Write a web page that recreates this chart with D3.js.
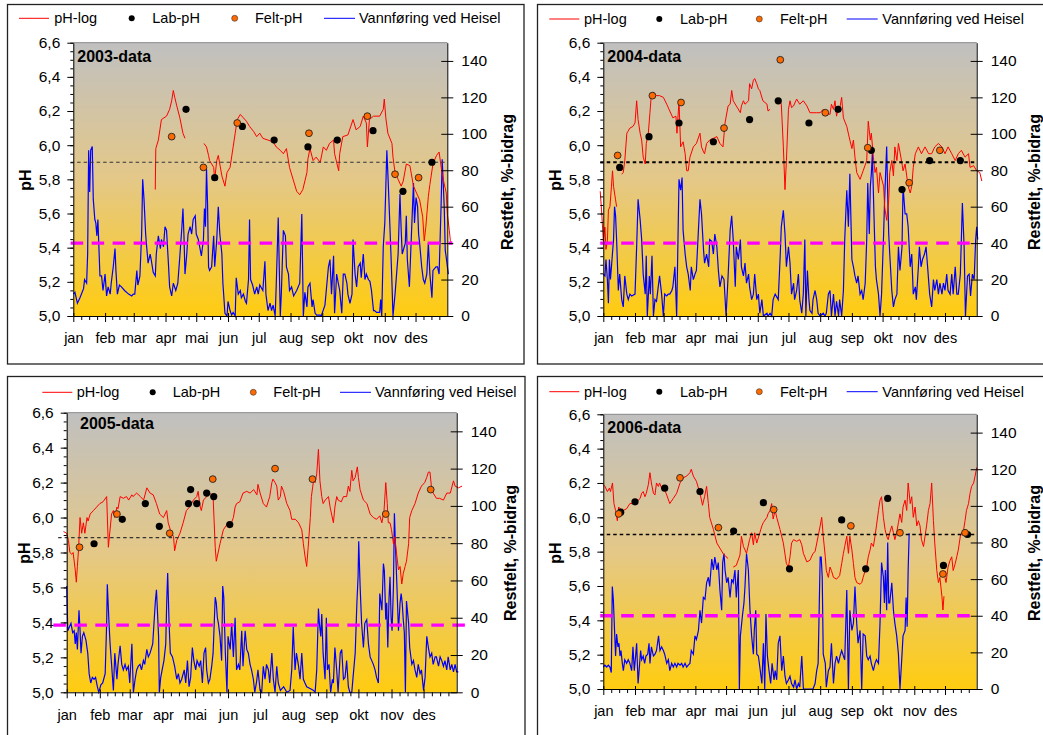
<!DOCTYPE html>
<html>
<head>
<meta charset="utf-8">
<script src="https://cdn.jsdelivr.net/npm/d3@7"></script>
<style>
body { margin: 0; background: #fff; }
svg { display: block; font-family: "Liberation Sans", Arial, sans-serif; }
</style>
</head>
<body>
<svg width="1043" height="735"></svg>
<script>
// ---- data: [day of year, value]; null = gap in the logger series ----
const years = ['2003', '2004', '2005', '2006'];
const months = ['jan','feb','mar','apr','mai','jun','jul','aug','sep','okt','nov','des'];
const monthStart = [0,31,59,90,120,151,181,212,243,273,304,334];
const phTicks = [5.0,5.2,5.4,5.6,5.8,6.0,6.2,6.4,6.6];
const flowTicks = [0,20,40,60,80,100,120,140];
const phRef = [5.9, 5.9, 5.885, 5.9];      // black dotted line
const flowRef = [40, 40, 36, 40];          // magenta dashed line

const phLog2003 = [[80,5.74],[80.5,5.98],[83,6.03],[86,6.15],[91,6.17],[94,6.21],[96,6.26],[97.6,6.32],[99,6.28],[101,6.23],[104,6.16],[107,6.07],[109,6.04],[110,null],
[127.5,6.01],[130,5.99],[132,5.94],[133,5.91],[137,5.87],[138,5.80],[140,5.91],[141.5,5.94],[145,5.82],[148,5.76],[150,5.84],[153,5.87],[156,5.99],[158,6.07],[160,6.15],[163,6.18],[166,6.16],[169,6.14],[172,6.11],[176,6.08],[179,6.05],[182,6.07],[185,6.04],[190,6.03],[195,6.02],[198,5.99],[202,5.97],[205,5.95],[208,5.98],[211,5.87],[215,5.79],[218,5.73],[221,5.71],[224,5.74],[228,5.84],[229,5.92],[231,5.98],[234,5.91],[237,5.93],[241,5.90],[244,5.99],[247,5.97],[250,6.01],[254,6.03],[255,5.95],[259,5.85],[260,5.95],[263,6.05],[268,6.06],[273,6.15],[276,6.09],[280,6.11],[283,6.17],[286,6.13],[287,5.99],[289,6.15],[293,6.17],[299,6.17],[302.5,6.21],[303.5,6.27],[305,6.16],[307,6.07],[311,6.01],[312,5.93],[314,5.84],[317,5.80],[320,5.76],[322,5.79],[325,5.89],[328.5,5.88],[332,5.76],[335,5.72],[338,5.68],[341,5.58],[342.5,5.44],[344,5.52],[346.5,5.70],[348,5.77],[351,5.89],[354.5,5.94],[357,5.96],[359.5,5.85],[361,5.80],[364,5.72],[365,5.60],[367,5.50],[368,5.44],[370,5.42]];
const labPh2003 = [[110,6.21],[138,5.81],[165,6.11],[196,6.03],[229,5.99],[257.6,6.03],[292.5,6.085],[321.7,5.73],[350,5.90]];
const feltPh2003 = [[96,6.05],[127,5.87],[160,6.13],[230,6.07],[287,6.17],[314,5.83],[337,5.81]];
const flow2003 = [[0,12],[1.6,13],[4,7],[6.5,10],[10,15],[11,20],[13,18],[14,34],[15,91],[16,68],[17,91],[18.5,93],[19.5,64],[21,53],[22,51],[23,44],[24,53],[26,22],[27.6,22],[29,14],[31,23],[32.5,11],[34,16],[36,12],[37,18],[39,27],[40.7,37],[41.6,25],[43,12],[45,17],[47,16],[50,14],[54,12],[57,11],[58.5,12],[60,12],[62,25],[63,17],[65,22],[66.7,45],[67.7,75],[69,64],[70.6,45],[71.6,38],[73,29],[75,34],[76,31],[78,24],[80,22],[81,34],[83,44],[85,37],[86,42],[88,38],[89.5,49],[91,47],[93,27],[94,16],[96,11],[97.6,18],[100,14],[102,18],[104,33],[106,49],[107,59],[108,44],[109,23],[110.6,33],[112,45],[114,49],[115.5,45],[117,53],[119,55],[120,45],[122,42],[124,36],[125,33],[127,42],[128,59],[129,49],[130,81],[131,62],[132,27],[133,25],[135,27],[137,44],[138,27],[140,42],[141.5,60],[143,45],[145,34],[146,18],[148,1.5],[150,0],[151,8],[153,3],[154.5,0.5],[156,2],[158,0],[159,21],[161,12],[163,14],[164,10],[166,12],[168,8],[169,7],[171,20],[172,53],[173,20],[175,17],[177,12],[179,16],[180.5,12],[182,17],[185,14],[187,30],[188,12],[190,3],[192,7],[193.5,3],[195,6],[197,0],[198,16],[200,54],[202,0],[203,12],[205,47],[207,44],[208,27],[210,23],[211,14],[213,16],[215,11],[218,14],[221,18],[223,56],[224.5,0],[226,13],[228,5],[229,16],[231,18],[233,5],[234,9],[236,1.5],[237.5,0.5],[241,0.5],[242,0],[245.6,6],[249,27],[250.5,31],[252,12],[254,33],[255,1.5],[257,23],[258.6,18],[260,14],[262,1.5],[263.5,23],[265,23],[267,18],[268,12],[270,7],[272,12],[273,42],[275,23],[276.5,16],[278,27],[280,29],[281,21],[283,34],[284.6,20],[286,23],[288,20],[289.5,19],[291,14],[293,3],[294,3],[296,2],[299,2],[300,9],[301,0],[302.5,38],[304,51],[306,91],[307,78],[308,64],[310,34],[311,18],[312,0],[314,12],[315.5,23],[317,34],[318.8,67],[320,47],[321,34],[323,38],[324,40],[325,55],[326,31],[328,16],[330,45],[332,73],[333,51],[334.5,65],[336,60],[337,45],[338,40],[340,27],[341.6,20],[343,18],[345,23],[346.5,40],[348,23],[350,10],[351,25],[354,27],[355.5,27],[357,23],[359,62],[360,86],[362,60],[363,36],[364,32],[366,23]];

const phLog2004 = [[-3,5.73],[-1.5,5.60],[0,5.44],[1.6,5.52],[2.6,5.39],[4,5.44],[5,5.62],[6.5,5.64],[8,5.76],[9,5.85],[10,5.76],[12,5.68],[13,5.64],[15,null],
[18,5.83],[19.5,5.84],[21,5.91],[23,6.07],[24,6.08],[26,6.10],[29,6.11],[31,6.13],[32.6,6.26],[34,6.15],[36,6.07],[37.5,6.03],[39,5.93],[41,5.89],[42,6.01],[44,6.07],[45.6,6.19],[47,6.30],[49,6.31],[52,6.29],[55,6.29],[58.7,6.28],[62,6.24],[65,6.20],[68,6.16],[71,6.17],[72,6.07],[74,6.26],[75.6,5.99],[78,6.02],[80,5.95],[81.5,5.85],[83,5.85],[84.7,5.93],[88,5.99],[91,6.01],[94.5,6.07],[96,5.99],[98,5.96],[99,5.95],[101,6.01],[104,6.03],[107.6,6.04],[111,6.05],[114,6.01],[117,5.99],[119,6.13],[122,6.23],[124,6.24],[125.5,6.32],[127,6.26],[130,6.23],[134,6.19],[135,6.23],[137,6.26],[138.5,6.24],[142,6.26],[143,6.36],[145,6.33],[146.7,6.38],[148,6.39],[150,6.36],[151.6,6.33],[153,6.32],[156,6.26],[160,6.24],[161,6.20],[163,6.21],[165,null],
[173,6.26],[174,6.24],[176,5.99],[177.6,5.74],[179,5.91],[181,6.21],[182.5,6.26],[184,6.22],[186,6.23],[189,6.27],[192,6.24],[195.5,6.26],[199,6.23],[202,6.19],[205,6.19],[208.6,6.19],[212,6.19],[215,6.21],[218,6.19],[221.6,6.18],[223,6.24],[225,6.21],[226.5,6.26],[228,6.17],[230,6.23],[231,6.21],[233,6.28],[234.7,6.16],[238,6.11],[241,6.03],[243,5.98],[244.5,6.03],[246,5.93],[247.7,5.84],[251,5.80],[254,5.85],[257.5,5.91],[259,6.14],[261,6.03],[262,6.07],[264,5.93],[265.6,5.84],[267,5.87],[269,5.72],[270.5,5.84],[274,5.76],[275,5.64],[277,5.56],[279,5.68],[280,5.84],[282,5.91],[283.6,5.82],[285,5.99],[287,5.91],[288.5,6.01],[290,5.96],[292,5.89],[293,5.85],[295,5.89],[296.6,5.82],[298,5.76],[300,5.72],[301.5,5.76],[303,5.87],[305,5.95],[308,5.99],[311,5.95],[314.5,5.99],[318,5.95],[321,5.95],[324,5.99],[327.6,6.01],[331,5.99],[334,5.95],[337,5.99],[340.6,5.95],[344,5.91],[347,5.95],[350,5.97],[353.6,5.93],[357,5.95],[358.5,5.87],[362,5.88],[365,5.85],[368,5.84],[370,5.79]];
const labPh2004 = [[16,5.87],[44.7,6.05],[74,6.13],[107.6,6.02],[143,6.15],[171,6.26],[201,6.13],[229.5,6.21],[262,5.97],[292,5.74],[319,5.91],[349,5.91]];
const feltPh2004 = [[14,5.94],[48,6.29],[76,6.25],[118,6.10],[173,6.50],[217,6.19],[258.5,5.985],[299,5.78],[329,5.97]];
const flow2004 = [[0,23],[1.6,22],[2.6,31],[4,20],[5,7],[6,31],[7,20],[8.5,31],[10,42],[11,60],[12,55],[13,42],[14.7,14],[16,23],[18,9],[19.5,5],[21,22],[23,12],[24.4,9],[26,12],[27.7,11],[31,12],[32.6,38],[34,64],[36,53],[37.5,42],[39,23],[41,12],[42,33],[43,0],[45,22],[46,12],[47.6,33],[49,0],[50.5,9],[52,8],[55,22],[57,12],[58.7,0],[60,12],[62,11],[63.5,12],[65,12],[67,14],[68,16],[70,27],[71.7,0],[73,42],[74,75],[75.6,69],[77,76],[78,47],[80,34],[81.5,27],[83,23],[85,14],[86,27],[88,20],[89.6,23],[91,25],[94.5,64],[96,56],[98,36],[99,29],[101,34],[103,27],[104,42],[106,41],[107.6,34],[109,45],[111,38],[112.5,25],[114,16],[116,22],[118,20],[120,0],[122,22],[124,47],[125.5,55],[127,42],[129,16],[130,38],[132,31],[134,42],[135,27],[137,22],[138.5,29],[140,18],[142,23],[143,16],[145,9],[146.7,12],[148,23],[150,9],[151.6,12],[153,1.5],[155,9],[156.5,0],[160,1.5],[161,0],[163,1.5],[164.6,0],[166,9],[168,12],[171,9],[173,34],[174,49],[176,58],[177.6,45],[179,27],[181,38],[182.5,29],[184,12],[186,18],[187,9],[189,14],[190.7,23],[192,9],[194,1.5],[195.5,12],[197,42],[198,0],[199.5,25],[201,9],[202,3],[204,1.5],[205,9],[207,14],[208.6,9],[210,1.5],[212,0],[215,1.5],[216.7,0],[218,1.5],[220,12],[221.6,14],[223,0],[225,12],[226.5,0],[228,8],[230,0],[231,9],[233,0],[234.7,14],[236,42],[238,69],[239.6,49],[241,78],[243,31],[244.5,27],[246,22],[247.7,18],[249,22],[251,12],[252.6,14],[254,9],[256,18],[257.5,42],[258.5,73],[260,45],[261,71],[262,78],[263,89],[264.6,55],[266,27],[267,20],[269,12],[270.5,0],[272,12],[274,45],[275,64],[277,93],[278,67],[279,45],[280,34],[282,14],[283.6,5],[285,9],[287,12],[288.5,38],[290,25],[292,38],[293,71],[295,56],[296.6,56],[298,49],[300,27],[301.5,34],[303,12],[305,16],[306,9],[308,27],[309,38],[310.6,27],[312,31],[314,34],[315.5,38],[317,27],[319,12],[321,5],[322.7,20],[324,14],[326,20],[327.6,12],[329,18],[331,12],[332.5,18],[334,14],[335.7,23],[337,14],[339,12],[340.6,23],[342,12],[344,27],[345.6,12],[347,12],[349,23],[350,42],[351,62],[352.7,38],[354,0],[356,22],[357.6,23],[359,11],[360.8,23],[362.5,20],[364,42],[365,49],[366,42]];

const phLog2005 = [[-3,5.92],[0,5.91],[1.6,5.87],[3,5.80],[4.7,5.79],[6,5.80],[8,5.70],[9,5.63],[10,5.72],[11,5.81],[12.5,6.00],[14,5.91],[15.6,5.97],[17,5.91],[19,6.00],[20,5.98],[22,6.02],[25,6.04],[28,6.06],[31,6.08],[34,6.09],[37.4,6.12],[39,5.83],[42,6.02],[43.7,6.04],[45,6.00],[47,6.06],[48,6.05],[50,6.12],[53,6.11],[56,6.12],[58,6.10],[61,6.13],[62,6.12],[65.5,6.14],[69,6.12],[72,6.10],[75,6.17],[78,6.14],[81,6.13],[84,6.08],[87,6.02],[90.5,6.00],[93.6,6.04],[95,5.97],[97,5.93],[100,5.89],[101,5.81],[103,5.87],[106,5.91],[109,5.97],[112,6.04],[115,6.06],[118.6,6.10],[121.7,6.12],[123,6.15],[125,6.06],[126,6.04],[128,6.10],[131,6.12],[134,6.14],[137,6.12],[139,5.83],[140,5.75],[143.5,5.85],[146.6,5.93],[150,5.96],[153,5.95],[156,6.00],[157.6,6.06],[159,6.08],[162,6.09],[165,6.14],[168.5,6.15],[171.6,6.14],[175,6.16],[178,6.13],[179,6.19],[181,6.14],[184,6.08],[187,6.06],[190,6.12],[192,6.20],[193,6.22],[195,6.20],[196.6,6.18],[198,6.10],[200,6.12],[201,6.18],[203,6.15],[206,6.08],[209,6.04],[210.6,5.99],[214,5.99],[217,5.97],[220,5.93],[221.5,5.85],[223,5.78],[224.6,5.72],[226,5.83],[228,6.00],[229,6.12],[231,6.21],[232.5,6.20],[234,6.25],[235.6,6.39],[237,6.21],[238.7,6.12],[240,6.08],[242,6.10],[245,6.12],[246.5,6.06],[249.6,5.97],[251,6.06],[252.7,6.12],[254,6.10],[257,6.09],[259,6.12],[262,6.12],[263.6,6.18],[265,6.15],[266.8,6.27],[268,6.21],[270,6.23],[272,6.29],[273,6.23],[274.6,6.16],[277.7,6.10],[281,6.08],[284,6.02],[287,6.00],[290,5.99],[293,6.01],[295,5.97],[297,6.04],[298.6,6.20],[300,6.08],[301,5.97],[302.6,5.97],[304,5.93],[305.8,5.85],[307,5.89],[309,5.78],[310.5,5.70],[312,5.72],[313.6,5.62],[315,5.68],[316.7,5.72],[318,5.75],[320,5.85],[321,6.00],[323,6.04],[326,6.08],[329,6.14],[332,6.18],[335,6.20],[337,6.23],[338.5,6.26],[340,6.26],[341.6,6.16],[343,6.14],[346,6.11],[349,6.11],[352.6,6.10],[355.7,6.14],[359,6.14],[362,6.21],[363.5,6.18],[366.6,6.17],[370,6.18]];
const labPh2005 = [[25.6,5.85],[52,5.99],[73.6,6.08],[86.7,5.95],[114,6.08],[116,6.16],[121.7,6.08],[131,6.14],[137.6,6.12],[152.6,5.96]];
const feltPh2005 = [[12,5.83],[47,6.02],[96.4,5.91],[136.7,6.22],[195,6.28],[230,6.22],[298.6,6.02],[340.7,6.16]];
const flow2005 = [[0,57],[1,33],[2.5,35],[4,37],[5.6,32],[7,33],[8,26],[9,32],[10,23],[11.5,44],[12.5,33],[13.4,21],[14.7,30],[16,32],[18,28],[19.7,21],[21,10],[22.5,5],[24,8],[25.6,7],[27,8],[28.7,3],[30,0],[32,4],[33.7,5],[36,10],[37.4,37],[38,58],[39.6,37],[40.6,26],[42,15],[43.7,1],[45,21],[47,7],[48,15],[50,25],[51.5,15],[53,12],[54.6,15],[56,12],[57.7,14],[59,5],[61,26],[62.4,0],[64,7],[65.5,12],[67,14],[68.6,15],[70,12],[71.8,17],[73,15],[75,23],[76.4,19],[78,21],[80.5,26],[81.7,37],[83,49],[84,55],[86,30],[86.7,0],[88,8],[90,14],[91,17],[92.7,26],[93.6,48],[94.5,64],[95.8,37],[97,21],[99,19],[101,14],[103,7],[104.5,10],[106,5],[107.6,7],[110,12],[111.4,5],[113,17],[114.5,3],[116,8],[117.6,24],[119,17],[120.7,12],[122,17],[124,14],[125.4,17],[127,5],[128.5,21],[130,24],[131,12],[132.6,5],[134,7],[135.7,14],[137,21],[139,51],[140,48],[141,40],[142,37],[143.5,30],[145,17],[146,57],[147,51],[148.5,21],[150,0],[151,30],[153,23],[154.4,37],[156,19],[157.6,40],[159,12],[160.7,15],[162,12],[163.8,33],[165,14],[167,33],[168.5,23],[170,21],[171.6,15],[173,12],[174.7,7],[176,0],[177.8,6],[179,12],[181,1],[182.5,0],[184,14],[185.6,7],[187,15],[188.8,12],[190,5],[192,21],[193.4,7],[195,0],[196.6,14],[198,5],[200,1],[203,3],[206,0],[209,1],[210.6,12],[212,35],[213.7,12],[215,21],[217,14],[218.4,7],[220,21],[221.5,7],[223,5],[224.6,3],[227.8,2],[231,1],[232.5,0],[234,12],[235.6,45],[236.5,37],[237.8,30],[238.7,42],[240,21],[241.8,7],[243,40],[244,12],[245.5,15],[247,0],[248.7,7],[249.6,5],[251,24],[252.7,12],[254,0],[256,21],[257.4,23],[259,7],[260.5,8],[262,17],[263.6,3],[265,0],[266.8,0],[268,8],[270,21],[271.6,48],[272.7,62],[273.3,81],[274.6,57],[276,37],[277.7,24],[279,37],[280.8,39],[282.4,26],[284,19],[285.5,17],[287,15],[288.6,12],[290,8],[291.7,5],[293,53],[295,44],[296.4,69],[297.3,65],[298.6,39],[299.5,48],[300.5,24],[301.7,51],[302.6,62],[303.6,40],[304.5,33],[305.8,57],[306.7,96],[307.6,80],[309,58],[310.5,33],[312,48],[313,53],[314,48],[315,39],[316,32],[317,0],[318,49],[320,37],[321,24],[323,15],[324.5,17],[326,12],[327.6,8],[329,15],[330.7,10],[332,12],[334,1],[335.4,8],[337,30],[338.5,24],[340,19],[341.6,21],[343,15],[344.8,19],[346,19],[348,14],[349.5,19],[351,17],[352.6,14],[354,17],[355.7,12],[357,19],[359,12],[360.4,15],[362,11],[363.5,15],[365,11],[366.6,11]];

const phLog2006 = [[0,6.19],[1.6,6.18],[4,6.15],[6,6.17],[7,6.15],[9,6.20],[10.4,6.08],[12,6.04],[13.7,5.98],[15,6.06],[16.3,6.05],[19.6,6.04],[22.8,6.05],[26,6.08],[29,6.08],[32.6,6.09],[36,6.11],[37.5,6.14],[39,6.15],[40.7,6.12],[42,6.14],[44,6.19],[45.6,6.26],[47,6.20],[49,6.14],[50.5,6.13],[52,6.20],[53.8,6.18],[55,6.20],[57,6.17],[58.7,6.18],[62,6.13],[65,6.08],[68.4,6.11],[71.7,6.14],[75,6.20],[78,6.23],[81.5,6.24],[84.7,6.26],[86,6.28],[88,6.24],[91,6.21],[94.5,6.14],[97,6.07],[99,6.12],[101,6.18],[102.7,6.08],[104,6.00],[107.6,5.93],[111,5.85],[114,5.82],[117,5.79],[120,5.77],[122,5.76],[124,null],
[127,5.71],[130,5.72],[133.6,5.78],[135,5.89],[137,5.83],[140,5.79],[143,5.87],[145,5.91],[146.7,5.84],[148,5.91],[150,5.85],[153,5.91],[155,5.95],[156.5,5.97],[160,6.00],[161,6.02],[163,6.04],[164.6,6.08],[166,5.99],[168,6.04],[169.5,6.00],[172.7,5.93],[176,5.85],[179,5.73],[181,5.71],[182.5,5.77],[184,5.85],[186,5.87],[189,5.86],[192,5.87],[194,5.84],[195.6,5.79],[199,5.74],[202,5.75],[205,5.79],[207,5.80],[210,5.89],[212,5.95],[213.5,6.00],[215,5.89],[217,5.77],[218,5.69],[220,5.65],[221.6,5.71],[223,5.69],[225,5.65],[228,5.64],[231,5.66],[233,5.73],[234.7,5.79],[236,5.83],[238,5.89],[239.6,5.79],[241,5.89],[243,5.81],[244.5,5.73],[246,5.65],[247.7,5.62],[251,5.61],[252.6,5.62],[254,5.65],[256,5.69],[257.5,5.71],[259,5.77],[260.8,5.81],[262,5.85],[264,5.83],[265.6,5.89],[267,5.95],[269,6.04],[270.5,6.10],[272,6.12],[273.8,6.00],[275.4,5.93],[277,5.89],[278.5,5.87],[280,5.91],[282,5.95],[283.6,5.91],[285,5.87],[286.8,5.91],[288.5,5.97],[290,6.02],[291.7,5.97],[293,6.06],[295,6.10],[296.6,6.04],[298,6.20],[300,6.08],[301.5,6.12],[303,6.00],[304.8,6.06],[306.4,5.95],[308,5.98],[309.6,5.95],[311,5.87],[313,5.83],[314.5,5.89],[316,5.95],[317.8,6.04],[319.4,6.08],[321,6.20],[322.7,5.98],[324,5.85],[326,5.69],[327.6,5.62],[329,5.65],[331,5.54],[332,5.46],[333,5.54],[333.5,null],
[334,5.65],[335,5.62],[337,5.71],[339,5.75],[340.6,5.77],[342,5.69],[344,5.73],[345.5,5.77],[347,5.81],[349,5.89],[350.4,5.91],[352,5.92],[353.6,5.98],[355,6.04],[357,6.08],[358.5,6.14],[360,6.18],[362,6.20],[363.4,6.24],[365,6.29]];
const labPh2006 = [[17,6.03],[31,6.09],[60,6.17],[94.5,6.15],[127.4,5.92],[156.5,6.085],[182,5.70],[233,5.985],[256.5,5.70],[278,6.11],[332.5,5.72],[356,5.90]];
const feltPh2006 = [[15,6.02],[75,6.23],[112.5,5.94],[166.6,6.045],[242,5.95],[290,5.91],[332,5.67],[353.6,5.91]];
const flow2006 = [[0,12],[1.6,13],[3.3,12],[5,13],[6.5,12],[7.8,9],[8.8,56],[9.8,49],[11,32],[12,18],[13,30],[14.3,23],[15.3,25],[16.3,18],[17.3,21],[18.6,14],[19.6,10],[21,16],[22.8,14],[24.4,16],[26,14],[27.7,10],[29,23],[30.3,10],[31.6,18],[32.6,25],[34,3],[35,10],[36.5,21],[37.5,16],[39,18],[40.4,14],[41.7,18],[43.4,19],[44.7,25],[45.6,14],[47,23],[49,18],[50.5,19],[52,21],[53,25],[54,29],[55.4,21],[57,23],[58.7,21],[60,19],[62,14],[63.6,16],[65,10],[66.8,14],[68.4,12],[70,14],[71.7,12],[73,14],[75,13],[76.6,14],[78,12],[79.9,14],[81.5,12],[83,13],[84.7,14],[86,21],[88,19],[89.6,29],[91,27],[93,32],[94.5,43],[96,36],[97.8,50],[99.4,49],[101,58],[102.7,61],[104,56],[106,71],[107.6,65],[109,72],[111,65],[112.4,69],[114,54],[115.7,43],[116.7,69],[118,74],[119,65],[120.6,58],[122,61],[123.9,50],[125.5,60],[127,58],[128.7,65],[130,50],[132,65],[133,0],[134,29],[136,40],[137.5,47],[138.5,56],[140,74],[141.8,65],[143.4,43],[145,29],[146.7,19],[147.6,32],[149,43],[150,19],[151.6,18],[153,12],[155,3],[156.5,25],[157.8,0],[159,41],[160.4,18],[162,10],[163.6,3],[165,14],[166.9,5],[168,10],[169.5,5],[171,25],[172.7,29],[174.4,10],[176,18],[177.6,7],[179,3],[181,5],[182.5,7],[184,3],[186,1],[187.4,5],[189,0],[190.7,3],[192,1],[194,18],[195.6,0],[205,0],[207,3],[208.6,10],[210,14],[212,72],[213,72],[214,61],[215,19],[217,14],[218,1],[220,10],[221.6,12],[223,25],[225,3],[226.5,14],[228,18],[229.9,14],[231.4,18],[233,21],[234.7,18],[236,16],[238,54],[239.6,0],[241,43],[243,32],[244.5,36],[246,56],[247.7,36],[249,25],[251,32],[252.6,0],[254,30],[256,29],[257.5,18],[259,16],[260.8,18],[262,14],[264,10],[265.6,14],[267,16],[269,14],[270.5,36],[272,69],[273.8,61],[274.8,47],[275.7,65],[277,43],[278,80],[279,47],[280,47],[282,58],[283.6,43],[285,36],[286.8,29],[288.5,19],[290,0],[291.7,16],[293,29],[295,32],[296,50],[297,34],[298,65],[299,85]];

const phLog = [phLog2003, phLog2004, phLog2005, phLog2006];
const labPh = [labPh2003, labPh2004, labPh2005, labPh2006];
const feltPh = [feltPh2003, feltPh2004, feltPh2005, feltPh2006];
const flow = [flow2003, flow2004, flow2005, flow2006];

// ---- layout of the four panels ----
const layout = [
  {box:[7.5,4.5,516.5,359.5], l:73.3, r:447.3, t:42.7, b:316, legY:18.3, leg:[19,54.3,131.7,152.3,234.7,255,324,359], tx:77.3, ty:62, refX:[-2.6,365], magX:[-2.6,370], ph:[25,180], rl:[507,182], refW:1.2, refC:'#333'},
  {box:[537.5,4.5,520,359.5], l:603.3, r:976.7, t:42.7, b:316, legY:19, leg:[549.3,584,659.3,680,759.3,780,846.7,882.3], tx:607.3, ty:62, refX:[-3,365], magX:[-3,365], ph:[555,180], rl:[1034,182], refW:2, refC:'#000'},
  {box:[7.5,376.5,517.5,370], l:66.7, r:456.7, t:412.7, b:692.3, legY:392.3, leg:[42.3,76.7,152.7,172.7,253.3,273.3,340,375], tx:80, ty:429.3, refX:[-8,362], magX:[-12.5,373], ph:[24,553], rl:[510,553], refW:1.2, refC:'#333'},
  {box:[537.5,376.5,520,370], l:603.3, r:976.7, t:414.3, b:689, legY:391.7, leg:[549.3,584,659.3,680,759.3,780,846.7,882.3], tx:607.3, ty:433.3, refX:[-3,365], magX:[-3,365], ph:[555,553], rl:[1034,553], refW:1.6, refC:'#000'}
];

const svg = d3.select('svg');
const defs = svg.append('defs');
const grad = defs.append('linearGradient').attr('id', 'bg')
  .attr('x1', 0).attr('y1', 0).attr('x2', 0).attr('y2', 1);
grad.append('stop').attr('offset', '0%').attr('stop-color', '#c0c0c0');
grad.append('stop').attr('offset', '50%').attr('stop-color', '#e4c888');
grad.append('stop').attr('offset', '100%').attr('stop-color', '#ffcc10');

const fmt = d => d.toFixed(1).replace('.', ',');

layout.forEach((p, i) => {
  const g = svg.append('g');
  const x = d3.scaleLinear().domain([0, 365]).range([p.l, p.r]);
  const yL = d3.scaleLinear().domain([5, 6.6]).range([p.b, p.t]);
  const yR = d3.scaleLinear().domain([0, 150]).range([p.b, p.t]);

  g.append('rect').attr('x', p.box[0]).attr('y', p.box[1]).attr('width', p.box[2]).attr('height', p.box[3])
    .attr('fill', '#fff').attr('stroke', '#222').attr('stroke-width', 1.3);

  g.append('rect').attr('x', p.l).attr('y', p.t).attr('width', p.r - p.l).attr('height', p.b - p.t)
    .attr('fill', 'url(#bg)');
  g.append('line').attr('x1', p.l).attr('x2', p.r).attr('y1', p.t).attr('y2', p.t)
    .attr('stroke', '#888').attr('stroke-width', 1);

  // flow (right axis)
  g.append('path').datum(flow[i])
    .attr('fill', 'none').attr('stroke', '#0000ff').attr('stroke-width', 1.2)
    .attr('d', d3.line().x(d => x(d[0])).y(d => yR(d[1])));

  // pH logger
  g.append('path').datum(phLog[i])
    .attr('fill', 'none').attr('stroke', '#ff0000').attr('stroke-width', 1)
    .attr('d', d3.line().defined(d => d[1] !== null).x(d => x(d[0])).y(d => yL(d[1])));

  // reference lines
  g.append('line').attr('x1', x(p.magX[0])).attr('x2', x(p.magX[1]))
    .attr('y1', yR(flowRef[i])).attr('y2', yR(flowRef[i]))
    .attr('stroke', '#ff00ff').attr('stroke-width', 3.3).attr('stroke-dasharray', '12.5,8.5');
  g.append('line').attr('x1', x(p.refX[0])).attr('x2', x(p.refX[1]))
    .attr('y1', yL(phRef[i])).attr('y2', yL(phRef[i]))
    .attr('stroke', p.refC).attr('stroke-width', p.refW).attr('stroke-dasharray', '3.5,3');

  // samples
  g.append('g').selectAll('circle').data(labPh[i]).join('circle')
    .attr('cx', d => x(d[0])).attr('cy', d => yL(d[1])).attr('r', 3.6).attr('fill', '#000');
  g.append('g').selectAll('circle').data(feltPh[i]).join('circle')
    .attr('cx', d => x(d[0])).attr('cy', d => yL(d[1])).attr('r', 3.4)
    .attr('fill', '#ff6a00').attr('stroke', '#222').attr('stroke-width', 0.9);

  // left axis
  const ax = g.append('g').attr('transform', `translate(${p.l},0)`)
    .call(d3.axisLeft(yL).tickValues(phTicks).tickFormat(fmt).tickSize(6).tickSizeOuter(0).tickPadding(7));
  g.append('g').attr('transform', `translate(${p.l},0)`)
    .call(d3.axisLeft(yL).tickValues(d3.range(33).map(k => 5 + k * 0.05)).tickFormat('').tickSize(3).tickSizeOuter(0))
    .select('.domain').remove();

  // right axis
  const ar = g.append('g').attr('transform', `translate(${p.r},0)`)
    .call(d3.axisRight(yR).tickValues(flowTicks).tickSize(6).tickSizeOuter(0).tickPadding(8));
  ar.selectAll('.tick line').attr('x1', -6);

  // bottom axis
  const minor = [];
  monthStart.forEach((s, m) => {
    const e = m < 11 ? monthStart[m + 1] : 365;
    for (let k = 1; k < 4; k++) minor.push(s + k * (e - s) / 4);
  });
  const ab = g.append('g').attr('transform', `translate(0,${p.b})`)
    .call(d3.axisBottom(x).tickValues(monthStart).tickFormat((d, k) => months[k]).tickSize(6).tickSizeOuter(0).tickPadding(11));
  ab.selectAll('.tick line').attr('y1', -3);
  g.append('g').attr('transform', `translate(0,${p.b})`)
    .call(d3.axisBottom(x).tickValues(minor).tickFormat('').tickSize(4).tickSizeOuter(0))
    .select('.domain').remove();

  [ax, ar, ab].forEach(a => {
    a.attr('font-family', null).attr('font-size', null);
    a.selectAll('path,line').attr('stroke', '#000');
    a.selectAll('text').attr('fill', '#000');
  });
  ax.selectAll('text').style('font-size', '15.5px');
  ar.selectAll('text').style('font-size', '15.5px');
  ab.selectAll('text').style('font-size', '14.5px');

  // titles
  g.append('text').attr('x', p.tx).attr('y', p.ty).text(years[i] + '-data')
    .style('font-size', '16px').style('font-weight', 'bold');
  g.append('text').attr('transform', `translate(${p.ph[0]},${p.ph[1]}) rotate(-90)`)
    .attr('text-anchor', 'middle').attr('dy', '0.35em').text('pH')
    .style('font-size', '16px').style('font-weight', 'bold');
  g.append('text').attr('transform', `translate(${p.rl[0]},${p.rl[1]}) rotate(-90)`)
    .attr('text-anchor', 'middle').attr('dy', '0.35em').text('Restfelt, %-bidrag')
    .style('font-size', '16px').style('font-weight', 'bold');

  // legend
  const L = p.leg, ly = p.legY;
  const lg = g.append('g').style('font-size', '14.5px');
  lg.append('line').attr('x1', L[0]).attr('x2', L[0] + 30).attr('y1', ly).attr('y2', ly).attr('stroke', '#ff0000');
  lg.append('text').attr('x', L[1]).attr('y', ly).attr('dy', '0.35em').text('pH-log');
  lg.append('circle').attr('cx', L[2]).attr('cy', ly).attr('r', 3).attr('fill', '#000');
  lg.append('text').attr('x', L[3]).attr('y', ly).attr('dy', '0.35em').text('Lab-pH');
  lg.append('circle').attr('cx', L[4]).attr('cy', ly).attr('r', 3).attr('fill', '#ff6a00').attr('stroke', '#333').attr('stroke-width', 0.6);
  lg.append('text').attr('x', L[5]).attr('y', ly).attr('dy', '0.35em').text('Felt-pH');
  lg.append('line').attr('x1', L[6]).attr('x2', L[6] + 31).attr('y1', ly).attr('y2', ly).attr('stroke', '#0000ff');
  lg.append('text').attr('x', L[7]).attr('y', ly).attr('dy', '0.35em').text('Vannføring ved Heisel');
});
</script>
</body>
</html>
